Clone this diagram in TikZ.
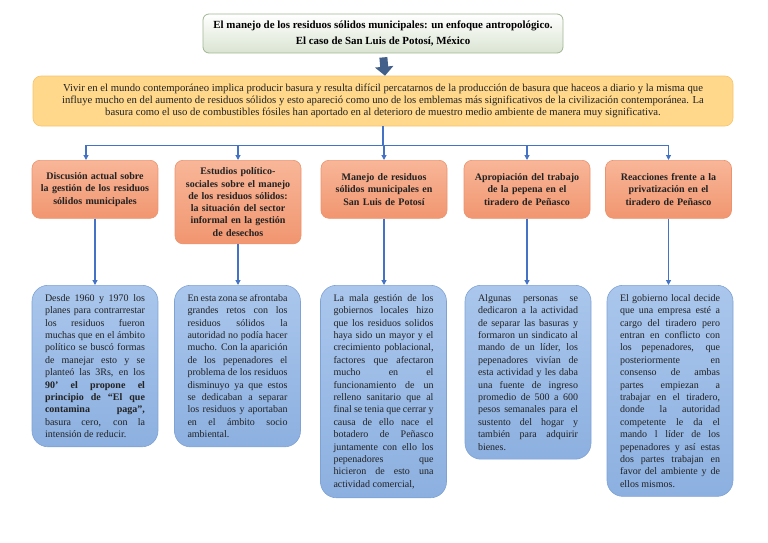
\documentclass[tikz,border=0pt]{standalone}
\usepackage{fontspec}
\setmainfont{Liberation Serif}
\usetikzlibrary{arrows.meta,positioning}

\definecolor{linkblue}{RGB}{68,114,196}
\definecolor{arrowslate}{RGB}{66,96,138}
\definecolor{titleedge}{RGB}{160,182,146}
\definecolor{titlefill}{RGB}{218,228,210}
\definecolor{bannerfill}{RGB}{255,216,140}
\definecolor{banneredge}{RGB}{246,196,110}
\definecolor{topictop}{RGB}{248,182,152}
\definecolor{topicbot}{RGB}{241,150,112}
\definecolor{topicedge}{RGB}{236,146,108}
\definecolor{detailtop}{RGB}{170,198,236}
\definecolor{detailbot}{RGB}{140,176,224}
\definecolor{detailedge}{RGB}{126,162,212}
\definecolor{inktext}{RGB}{34,34,34}

\begin{document}
\begin{tikzpicture}[x=1pt,y=1pt,
    titlebox/.style={draw=titleedge, top color=white, bottom color=titlefill,
        rounded corners=6pt, line width=0.8pt, align=center, inner sep=0pt,
        minimum width=360pt, minimum height=39pt,
        font=\fontsize{10.9}{15.5}\selectfont\bfseries},
    banner/.style={draw=banneredge, fill=bannerfill, rounded corners=8pt,
        line width=0.6pt, align=center, inner sep=0pt,
        minimum width=700pt, minimum height=50pt, text=inktext,
        font=\fontsize{10.7}{11.9}\selectfont},
    topic/.style={draw=topicedge, top color=topictop, bottom color=topicbot,
        rounded corners=8pt, line width=0.6pt, align=center, anchor=north,
        text width=112pt, inner xsep=7pt, inner ysep=7.5pt, minimum height=58pt,
        text=inktext, font=\fontsize{10}{12.3}\selectfont\bfseries},
    detail/.style={draw=detailedge, top color=detailtop, bottom color=detailbot,
        rounded corners=16pt, line width=0.6pt, align=justify, anchor=north,
        text width=100pt, inner xsep=13pt, inner ysep=9pt, text=inktext,
        font=\fontsize{10}{12.4}\selectfont,
        execute at begin node={\tolerance=9999\hbadness=10000\hyphenpenalty=10000\exhyphenpenalty=10000}},
    link/.style={draw=linkblue, line width=1.1pt},
    tip/.style={-{Triangle[length=5pt,width=5pt]}}
]
    \useasboundingbox (0,0) rectangle (768,-543);

    % Title and main idea
    \node[titlebox] (title) at (383,-33.5)
        {El manejo de los residuos sólidos municipales: un enfoque antropológico.\\
         El caso de San Luis de Potosí, México};
    \node[banner] (idea) at (383,-101)
        {Vivir en el mundo contemporáneo implica producir basura y resulta difícil percatarnos de la producción de basura que haceos a diario y la misma que\\
         influye mucho en del aumento de residuos sólidos y esto apareció como uno de los emblemas más significativos de la civilización contemporánea. La\\
         basura como el uso de combustibles fósiles han aportado en al deterioro de muestro medio ambiente de manera muy significativa.};
    \draw[arrowslate, line width=8pt, -{Triangle[length=9pt,width=18pt]},
        shorten <=4pt] (title.south) -- ([xshift=2pt]idea.north);

    % Topics
    \node[topic] (t1) at (95,-160) {Discusión actual sobre\\ la gestión de los residuos\\ sólidos municipales};
    \node[topic] (t2) at (238,-160) {Estudios político-\\ sociales sobre el manejo\\ de los residuos sólidos:\\ la situación del sector\\ informal en la gestión\\ de desechos};
    \node[topic] (t3) at (384,-160) {Manejo de residuos\\ sólidos municipales en\\ San Luis de Potosí};
    \node[topic] (t4) at (527,-160) {Apropiación del trabajo\\ de la pepena en el\\ tiradero de Peñasco};
    \node[topic] (t5) at (668.5,-160) {Reacciones frente a la\\ privatización en el\\ tiradero de Peñasco};

    % Branching from the main idea
    \draw[link] (idea.south) -- ++(0,-19) coordinate (hub);
    \draw[link] ([xshift=-9pt]t1.north |- hub) -- (t5.north |- hub);
    \draw[link,tip] ([xshift=-9pt]t1.north |- hub) -- ([xshift=-9pt]t1.north);
    \foreach \t in {t2,t3,t4,t5}
        \draw[link,tip] (\t.north |- hub) -- (\t.north);

    % Details
    \node[detail] (d1) at (95,-285) {Desde 1960 y 1970 los\linebreak
        planes para contrarrestar\linebreak
        los residuos fueron\linebreak
        muchas que en el ámbito\linebreak
        político se buscó formas\linebreak
        de manejar esto y se\linebreak
        planteó las 3Rs, en los\linebreak
        \textbf{90’ el propone el}\linebreak
        \textbf{principio de “El que}\linebreak
        \textbf{contamina paga”,}\linebreak
        basura cero, con la\linebreak
        intensión de reducir.};
    \node[detail] (d2) at (237.5,-285) {En esta zona se afrontaba\linebreak
        grandes retos con los\linebreak
        residuos sólidos la\linebreak
        autoridad no podía hacer\linebreak
        mucho. Con la aparición\linebreak
        de los pepenadores el\linebreak
        problema de los residuos\linebreak
        disminuyo ya que estos\linebreak
        se dedicaban a separar\linebreak
        los residuos y aportaban\linebreak
        en el ámbito socio\linebreak
        ambiental.};
    \node[detail] (d3) at (383.5,-285) {La mala gestión de los\linebreak
        gobiernos locales hizo\linebreak
        que los residuos solidos\linebreak
        haya sido un mayor y el\linebreak
        crecimiento poblacional,\linebreak
        factores que afectaron\linebreak
        mucho en el\linebreak
        funcionamiento de un\linebreak
        relleno sanitario que al\linebreak
        final se tenia que cerrar y\linebreak
        causa de ello nace el\linebreak
        botadero de Peñasco\linebreak
        juntamente con ello los\linebreak
        pepenadores que\linebreak
        hicieron de esto una\linebreak
        actividad comercial,};
    \node[detail] (d4) at (528,-285) {Algunas personas se\linebreak
        dedicaron a la actividad\linebreak
        de separar las basuras y\linebreak
        formaron un sindicato al\linebreak
        mando de un líder, los\linebreak
        pepenadores vivían de\linebreak
        esta actividad y les daba\linebreak
        una fuente de ingreso\linebreak
        promedio de 500 a 600\linebreak
        pesos semanales para el\linebreak
        sustento del hogar y\linebreak
        también para adquirir\linebreak
        bienes.};
    \node[detail] (d5) at (670,-285) {El gobierno local decide\linebreak
        que una empresa esté a\linebreak
        cargo del tiradero pero\linebreak
        entran en conflicto con\linebreak
        los pepenadores, que\linebreak
        posteriormente en\linebreak
        consenso de ambas\linebreak
        partes empiezan a\linebreak
        trabajar en el tiradero,\linebreak
        donde la autoridad\linebreak
        competente le da el\linebreak
        mando l líder de los\linebreak
        pepenadores y así estas\linebreak
        dos partes trabajan en\linebreak
        favor del ambiente y de\linebreak
        ellos mismos.};

    % Topic to detail
    \foreach \i in {1,...,5}
        \draw[link,tip] (t\i.south) -- (t\i.south |- d\i.north);
\end{tikzpicture}
\end{document}
